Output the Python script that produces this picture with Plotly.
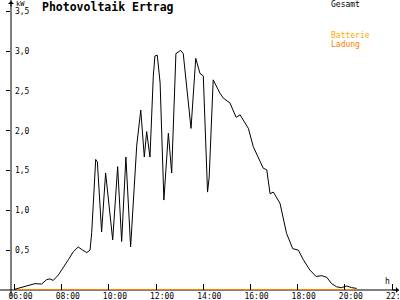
import plotly.graph_objects as go

# ---- data ----
gesamt_h = [6.02, 6.66, 6.87, 7.15, 7.36, 7.50, 7.64, 7.86, 8.07, 8.28, 8.49, 8.70, 8.89, 9.06,
            9.20, 9.27, 9.34, 9.44, 9.51, 9.69, 9.86, 10.16, 10.37, 10.54, 10.72, 10.92, 11.18,
            11.35, 11.50, 11.60, 11.74, 11.88, 11.95, 12.05, 12.17, 12.33, 12.52, 12.66, 12.84,
            13.04, 13.15, 13.48, 13.68, 13.86, 14.00, 14.18, 14.25, 14.42, 14.71, 14.85, 15.13,
            15.39, 15.56, 15.69, 15.91, 16.12, 16.33, 16.54, 16.69, 16.83, 16.97, 17.25, 17.53,
            17.79, 18.03, 18.24, 18.52, 18.78, 19.02, 19.23, 19.44, 19.65, 19.86, 20.08, 20.29, 20.50]
gesamt_kw = [0.01, 0.06, 0.08, 0.075, 0.13, 0.14, 0.12, 0.19, 0.28, 0.38, 0.48, 0.54, 0.50, 0.47,
             0.50, 0.72, 1.09, 1.64, 1.61, 0.73, 1.47, 0.63, 1.55, 0.61, 1.67, 0.54, 1.82,
             2.26, 1.67, 1.99, 1.67, 2.68, 2.94, 2.95, 2.60, 1.13, 1.97, 1.47, 2.97,
             3.01, 2.97, 2.03, 2.91, 2.72, 2.69, 1.23, 1.42, 2.64, 2.47, 2.41, 2.35,
             2.17, 2.20, 2.14, 2.03, 1.80, 1.67, 1.53, 1.51, 1.21, 1.23, 1.09, 0.71,
             0.52, 0.50, 0.38, 0.25, 0.17, 0.18, 0.16, 0.08, 0.04, 0.03, 0.05, 0.03, 0.02]
ladung_h = [6.0, 20.5]
ladung_kw = [0.0, 0.0]

x_tickvals = [6, 8, 10, 12, 14, 16, 18, 20, 22]
x_ticktext = ["06:00", "08:00", "10:00", "12:00", "14:00", "16:00", "18:00", "20:00", "22:00"]
y_tickvals = [0.5, 1.0, 1.5, 2.0, 2.5, 3.0, 3.5]
y_ticktext = ["0,5", "1,0", "1,5", "2,0", "2,5", "3,0", "3,5"]

FONT = "DejaVu Sans Mono"

fig = go.Figure()
fig.add_trace(go.Scatter(x=ladung_h, y=ladung_kw, mode="lines",
                         line=dict(color="#FF8000", width=2), name="Batterie Ladung",
                         showlegend=False, cliponaxis=False))
fig.add_trace(go.Scatter(x=gesamt_h, y=gesamt_kw, mode="lines",
                         line=dict(color="black", width=1), name="Gesamt",
                         showlegend=False, cliponaxis=False))

fig.update_layout(
    width=400, height=300,
    margin=dict(l=11, r=3, t=0, b=10, autoexpand=False),
    paper_bgcolor="white", plot_bgcolor="white",
    font=dict(family=FONT, size=8, color="black"),
    xaxis=dict(range=[5.85, 22.21], tickvals=x_tickvals, ticktext=x_ticktext,
               ticks="inside", ticklen=6, tickcolor="black", tickwidth=1,
               ticklabeloverflow="allow", ticklabelshift=6, automargin=False,
               showgrid=False, zeroline=False, showline=False,
               tickfont=dict(family=FONT, size=8, color="black")),
    yaxis=dict(range=[0, 3.643], tickvals=y_tickvals, ticktext=y_ticktext,
               ticks="outside", ticklen=4, tickcolor="black", tickwidth=1,
               ticklabelposition="outside", ticklabelstandoff=-25,
               ticklabeloverflow="allow", automargin=False,
               showgrid=False, zeroline=False, showline=False,
               tickfont=dict(family=FONT, size=8, color="black")),
    shapes=[
        dict(type="line", xref="paper", yref="paper", x0=0, x1=0, y0=-0.022, y1=1.0,
             line=dict(color="black", width=1), layer="below"),
        dict(type="line", xref="paper", yref="paper", x0=-0.0285, x1=1.005, y0=0, y1=0,
             line=dict(color="black", width=1), layer="below"),
    ],
    annotations=[
        dict(text="<b>Photovoltaik Ertrag</b>", xref="paper", yref="paper", x=0.0751, y=0.976,
             xanchor="left", yanchor="middle", showarrow=False,
             font=dict(family=FONT, size=11.5, color="black")),
        dict(text="kW", xref="paper", yref="paper", x=0.008, y=0.985,
             xanchor="left", yanchor="middle", showarrow=False,
             font=dict(family=FONT, size=7, color="black")),
        dict(text="Gesamt", xref="paper", yref="paper", x=0.824, y=0.9845,
             xanchor="left", yanchor="middle", showarrow=False,
             font=dict(family=FONT, size=8, color="black")),
        dict(text="Batterie", xref="paper", yref="paper", x=0.824, y=0.879,
             xanchor="left", yanchor="middle", showarrow=False,
             font=dict(family=FONT, size=8, color="#FFAA00")),
        dict(text="Ladung", xref="paper", yref="paper", x=0.824, y=0.848,
             xanchor="left", yanchor="middle", showarrow=False,
             font=dict(family=FONT, size=8, color="#FF8000")),
        dict(text="h", xref="paper", yref="paper", x=0.976, y=0.0276,
             xanchor="center", yanchor="middle", showarrow=False,
             font=dict(family=FONT, size=8, color="black")),
        dict(text="", xref="paper", yref="paper", x=0, y=1.0, ax=0, ay=8,
             showarrow=True, arrowhead=1, arrowsize=1, arrowwidth=1, arrowcolor="black"),
        dict(text="", xref="paper", yref="paper", x=1.005, y=0, ax=-8, ay=0,
             showarrow=True, arrowhead=1, arrowsize=1, arrowwidth=1, arrowcolor="black"),
    ],
)

fig.write_html("out.html")
